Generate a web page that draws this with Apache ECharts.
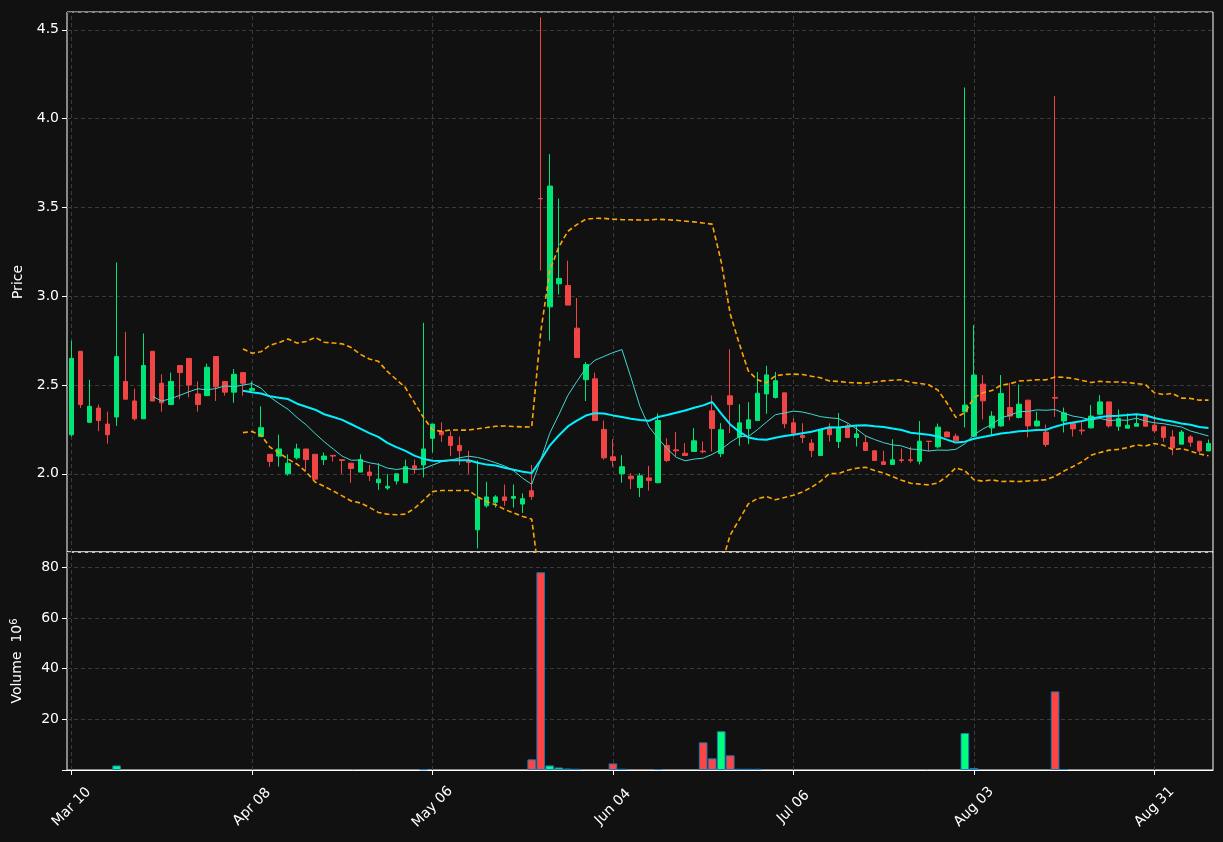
<!DOCTYPE html>
<html><head><meta charset="utf-8">
<script src="https://cdn.jsdelivr.net/npm/echarts@6/dist/echarts.min.js"></script>
<style>html,body{margin:0;padding:0;background:#111111;}#c{width:1223px;height:842px;}</style>
</head><body><div id="c"></div>
<script>
// ---- data ----
const opens = [2.22,2.69,2.29,2.37,2.28,2.32,2.52,2.41,2.31,2.69,
2.51,2.39,2.61,2.65,2.45,2.44,2.66,2.52,2.46,2.57,
2.47,2.21,2.11,2.10,2.00,2.09,2.14,2.11,2.08,2.104,
2.08,2.06,2.01,2.01,1.95,1.92,1.96,1.95,2.045,2.05,
2.20,2.24,2.21,2.16,2.075,1.685,1.82,1.84,1.87,1.862,
1.83,1.905,3.55,2.94,3.07,3.06,2.82,2.53,2.535,2.25,
2.096,2.00,1.987,1.923,1.977,1.95,2.16,2.135,2.116,2.126,
2.128,2.355,2.114,2.439,2.207,2.255,2.30,2.45,2.43,2.456,
2.287,2.216,2.173,2.103,2.261,2.182,2.27,2.205,2.176,2.13,
2.068,2.053,2.079,2.079,2.071,2.184,2.152,2.235,2.212,2.349,
2.212,2.505,2.259,2.27,2.373,2.317,2.415,2.27,2.235,2.43,
2.298,2.283,2.246,2.259,2.336,2.405,2.268,2.257,2.268,2.33,
2.274,2.265,2.208,2.167,2.208,2.184,2.129];
const highs = [2.75,2.69,2.53,2.39,2.35,3.19,2.80,2.48,2.79,2.69,
2.56,2.57,2.61,2.65,2.52,2.62,2.66,2.52,2.59,2.57,
2.52,2.38,2.11,2.22,2.11,2.17,2.14,2.11,2.12,2.104,
2.08,2.06,2.11,2.05,2.06,2.00,2.00,2.08,2.08,2.85,
2.28,2.29,2.24,2.21,2.13,2.075,1.955,1.88,1.94,1.94,
1.89,2.05,4.57,3.80,3.55,3.20,2.99,2.63,2.57,2.30,
2.195,2.105,2.004,2.004,2.045,2.34,2.20,2.235,2.173,2.257,
2.182,2.441,2.285,2.702,2.392,2.404,2.573,2.608,2.574,2.456,
2.313,2.285,2.195,2.25,2.285,2.342,2.285,2.276,2.216,2.13,
2.13,2.195,2.143,2.152,2.297,2.184,2.283,2.24,2.227,4.175,
2.837,2.556,2.353,2.556,2.512,2.503,2.415,2.349,2.278,4.127,
2.373,2.283,2.291,2.387,2.443,2.405,2.362,2.34,2.334,2.33,
2.33,2.265,2.246,2.246,2.218,2.184,2.193];
const lows = [2.21,2.37,2.29,2.24,2.17,2.27,2.42,2.30,2.31,2.41,
2.35,2.39,2.42,2.43,2.35,2.44,2.41,2.44,2.40,2.44,
2.47,2.21,2.04,2.04,1.99,2.08,2.02,1.97,2.05,2.07,
2.00,1.95,2.01,1.96,1.91,1.91,1.94,1.95,2.00,1.98,
2.12,2.18,2.10,2.05,2.00,1.58,1.81,1.81,1.82,1.81,
1.78,1.853,3.145,2.75,3.01,2.95,2.655,2.41,2.30,2.08,
2.04,1.95,1.914,1.869,1.906,1.95,2.066,2.097,2.103,2.126,
2.116,2.126,2.094,2.229,2.158,2.167,2.30,2.338,2.424,2.257,
2.21,2.173,2.094,2.103,2.182,2.145,2.205,2.154,2.131,2.075,
2.053,2.053,2.062,2.062,2.053,2.128,2.143,2.208,2.186,2.261,
2.208,2.306,2.212,2.265,2.302,2.312,2.205,2.265,2.152,2.321,
2.233,2.21,2.221,2.255,2.33,2.26,2.242,2.257,2.268,2.268,
2.231,2.18,2.105,2.167,2.152,2.118,2.129];
const closes = [2.65,2.39,2.38,2.30,2.22,2.66,2.42,2.31,2.61,2.41,
2.40,2.52,2.57,2.50,2.39,2.60,2.49,2.46,2.56,2.51,
2.48,2.26,2.07,2.14,2.06,2.14,2.08,1.97,2.10,2.10,
2.075,2.03,2.08,1.99,1.97,1.93,2.00,2.04,2.03,2.14,
2.28,2.22,2.16,2.13,2.064,1.86,1.87,1.87,1.85,1.872,
1.86,1.872,3.548,3.62,3.10,2.95,2.655,2.615,2.30,2.09,
2.075,2.04,1.972,1.989,1.962,2.30,2.075,2.13,2.103,2.186,
2.124,2.255,2.248,2.39,2.287,2.304,2.454,2.557,2.524,2.282,
2.229,2.205,2.131,2.248,2.22,2.261,2.205,2.225,2.131,2.075,
2.053,2.079,2.075,2.075,2.184,2.182,2.263,2.208,2.186,2.387,
2.556,2.411,2.325,2.452,2.325,2.392,2.27,2.297,2.165,2.426,
2.343,2.253,2.242,2.325,2.405,2.27,2.311,2.274,2.283,2.268,
2.242,2.205,2.146,2.235,2.178,2.129,2.171];
// volume in millions (10^6); 0 where no bar is visible
const volumes = [0,0,0,0,0,1.8,0,0,0,0,
0,0,0,0,0,0,0,0,0,0,
0,0,0,0,0,0,0,0,0,0,
0,0,0,0,0,0,0,0,0,0.3,
0,0,0,0,0,0,0,0,0,0,
0,4.2,78.0,1.8,1.0,0.6,0.5,0,0,0,
2.6,0.5,0,0,0,0.4,0,0,0,0,
10.9,4.6,15.3,5.8,0.5,0.5,0.5,0,0,0,
0,0,0,0,0,0,0,0,0,0,
0,0,0,0,0,0,0,0,0,14.6,
0.8,0,0,0,0,0,0,0,0,31.0,
0.4,0,0,0,0,0,0,0,0,0,
0,0,0,0,0,0,0];
const tickLabels = ['Mar 10','Apr 08','May 06','Jun 04','Jul 06','Aug 03','Aug 31'];
const skipDays = ['2020-04-06','2020-05-25','2020-06-25','2020-07-03','2020-09-07'];
const MONTHS = ['Jan','Feb','Mar','Apr','May','Jun','Jul','Aug','Sep','Oct','Nov','Dec'];

// ---- trading-day categories ----
function buildDates(n){
  const d = new Date(Date.UTC(2020,2,10)); const out=[];
  while(out.length<n){
    const wd=d.getUTCDay(); const iso=d.toISOString().slice(0,10);
    if(wd!==0 && wd!==6 && !skipDays.includes(iso))
      out.push(MONTHS[d.getUTCMonth()]+' '+String(d.getUTCDate()).padStart(2,'0'));
    d.setUTCDate(d.getUTCDate()+1);
  }
  return out;
}
const dates = buildDates(closes.length);

// ---- indicators derived from closes ----
function sma(arr,n){
  return arr.map((v,i)=>{ if(i<n-1) return '-'; let s=0; for(let j=i-n+1;j<=i;j++) s+=arr[j]; return s/n; });
}
function bands(arr,n,k){
  const up=[],lo=[];
  arr.forEach((v,i)=>{
    if(i<n-1){up.push('-');lo.push('-');return;}
    let s=0; for(let j=i-n+1;j<=i;j++) s+=arr[j]; const m=s/n;
    let q=0; for(let j=i-n+1;j<=i;j++) q+=(arr[j]-m)*(arr[j]-m);
    const sd=Math.sqrt(q/n); up.push(m+k*sd); lo.push(m-k*sd);
  });
  return [up,lo];
}
const ma10 = sma(closes,10);
const ma20 = sma(closes,20);
const [bbUp,bbLo] = bands(closes,20,2);

const UP='#00E676', DOWN='#EF4545', VUP='#00FF7F', VDOWN='#FF4444';
const candleData = closes.map((c,i)=>[opens[i],c,lows[i],highs[i]]);
const volData = volumes.map((v,i)=>({
  value:v,
  itemStyle:{color: closes[i]>=opens[i]?VUP:VDOWN, borderColor:'#1f77b4', borderWidth: v>0?1:0}
}));
const gridLine = {color:'#3a3a3a', type:[4,3], width:1};
const vLines = {silent:true, symbol:'none', z:1, label:{show:false},
  lineStyle:gridLine, emphasis:{disabled:true},
  data: tickLabels.map(t=>({xAxis:t}))};
const FS = 14;

const chart = echarts.init(document.getElementById('c'), null, {renderer:'canvas'});
chart.setOption({
  animation:false,
  backgroundColor:'#111111',
  textStyle:{fontFamily:'DejaVu Sans', color:'#ffffff'},
  grid:[
    {left:67, top:12, width:1146, height:540, show:true, borderColor:'#ffffff', borderWidth:1, backgroundColor:'transparent'},
    {left:67, top:552, width:1146, height:218, show:true, borderColor:'#ffffff', borderWidth:1, backgroundColor:'transparent'}
  ],
  xAxis:[
    {type:'category', gridIndex:0, data:dates, boundaryGap:true,
     axisLine:{show:false}, axisTick:{show:false}, axisLabel:{show:false}, splitLine:{show:false}},
    {type:'category', gridIndex:1, data:dates, boundaryGap:true,
     axisLine:{show:true, lineStyle:{color:'#ffffff'}},
     axisTick:{show:true, interval:19, alignWithLabel:true, length:5, lineStyle:{color:'#ffffff'}},
     axisLabel:{interval:19, rotate:45, color:'#ffffff', fontSize:FS, margin:37, align:'center', verticalAlign:'middle'},
     splitLine:{show:false}}
  ],
  yAxis:[
    {type:'value', gridIndex:0, min:1.56, max:4.6, splitNumber:6,
     axisLine:{show:false}, axisTick:{show:true, length:5, lineStyle:{color:'#ffffff'}},
     axisLabel:{color:'#ffffff', fontSize:FS, margin:8, showMinLabel:false, showMaxLabel:false,
       formatter:v=>v.toFixed(1)},
     splitLine:{show:true, lineStyle:gridLine},
     name:'Price', nameLocation:'middle', nameGap:42, nameRotate:90,
     nameTextStyle:{color:'#ffffff', fontSize:FS}},
    {type:'value', gridIndex:1, min:0, max:86, interval:20,
     axisLine:{show:false}, axisTick:{show:true, length:5, lineStyle:{color:'#ffffff'}},
     axisLabel:{color:'#ffffff', fontSize:FS, margin:8, showMaxLabel:false,
       formatter:v=> v===0 ? '' : String(v)},
     splitLine:{show:true, lineStyle:gridLine},
     name:'Volume  10{s|6}', nameLocation:'middle', nameGap:42, nameRotate:90,
     nameTextStyle:{color:'#ffffff', fontSize:FS, rich:{s:{fontSize:10, color:'#ffffff', verticalAlign:'top', padding:[0,0,6,0]}}}}
  ],
  series:[
    {type:'candlestick', name:'OHLC', xAxisIndex:0, yAxisIndex:0, data:candleData, barWidth:5, z:2,
     itemStyle:{color:UP, color0:DOWN, borderColor:UP, borderColor0:DOWN, borderWidth:1},
     markLine:vLines},
    {type:'line', name:'MA20', xAxisIndex:0, yAxisIndex:0, data:ma20, showSymbol:false, z:4,
     lineStyle:{color:'#00F0FF', width:2}},
    {type:'line', name:'MA10', xAxisIndex:0, yAxisIndex:0, data:ma10, showSymbol:false, z:4,
     lineStyle:{color:'#40D8D0', width:1}},
    {type:'line', name:'BB Upper', xAxisIndex:0, yAxisIndex:0, data:bbUp, showSymbol:false, z:4, clip:true,
     lineStyle:{color:'#FFA500', width:1.6, type:[5,3]}},
    {type:'line', name:'BB Lower', xAxisIndex:0, yAxisIndex:0, data:bbLo, showSymbol:false, z:4, clip:true,
     lineStyle:{color:'#FFA500', width:1.6, type:[5,3]}},
    {type:'bar', name:'Volume', xAxisIndex:1, yAxisIndex:1, data:volData, barWidth:'96%', z:2,
     markLine:vLines}
  ]
});
</script></body></html>
